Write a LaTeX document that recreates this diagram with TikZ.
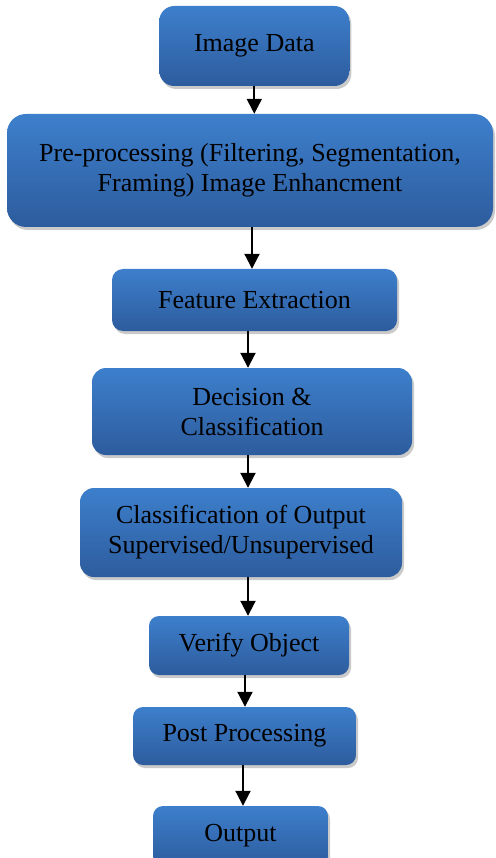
\documentclass[tikz,border=0pt]{standalone}
\usepackage{fontspec}
\setmainfont{Liberation Serif}
\usetikzlibrary{arrows.meta,shadows}
\definecolor{boxtop}{RGB}{61,127,204}
\definecolor{boxbot}{RGB}{45,92,157}
\tikzset{
  stepbox/.style={draw=none,rounded corners=#1,top color=boxtop,bottom color=boxbot,
    align=center,inner sep=0pt,text=black,
    font=\fontsize{26}{30}\selectfont,
    drop shadow={shadow xshift=2pt,shadow yshift=-3pt,opacity=0.35,fill=black!60}},
  stepbox/.default=12pt,
  arr/.style={-{Triangle[width=15pt,length=15pt]},line width=2pt}
}
\begin{document}
\begin{tikzpicture}[x=1pt,y=1pt]
  \useasboundingbox (0,0) rectangle (495,-858);
  \node[stepbox=15pt,minimum width=190pt,minimum height=80pt] (img) at (254.3,-46) {Image Data};
  \node[stepbox=19pt,minimum width=486pt,minimum height=113pt] (pre) at (250,-170.5)
     {Pre-processing (Filtering, Segmentation,\\ Framing) Image Enhancment};
  \node[stepbox=11pt,minimum width=285pt,minimum height=62pt] (feat) at (254.5,-300) {Feature Extraction};
  \node[stepbox=14pt,minimum width=320pt,minimum height=87pt] (dec) at (252,-411.5) {Decision \&\\ Classification};
  \node[stepbox=14pt,minimum width=322pt,minimum height=89pt] (cls) at (241,-532.5)
     {Classification of Output\\ Supervised/Unsupervised};
  \node[stepbox=10pt,minimum width=200pt,minimum height=59pt] (ver) at (249,-645.5) {Verify Object};
  \node[stepbox=10pt,minimum width=223pt,minimum height=58pt] (post) at (244.5,-736) {Post Processing};
  \node[stepbox=10pt,minimum width=175pt,minimum height=60pt] (out) at (240.5,-836) {Output};
  % connectors
  \foreach \a/\b/\dx in {img/pre/0,pre/feat/2,feat/dec/-6.5,dec/cls/-4,cls/ver/7,ver/post/-4,post/out/-1.5}
     \draw[arr] ([xshift=\dx pt]\a.south) -- ([xshift=\dx pt]\a.south |- \b.north);
\end{tikzpicture}
\end{document}
